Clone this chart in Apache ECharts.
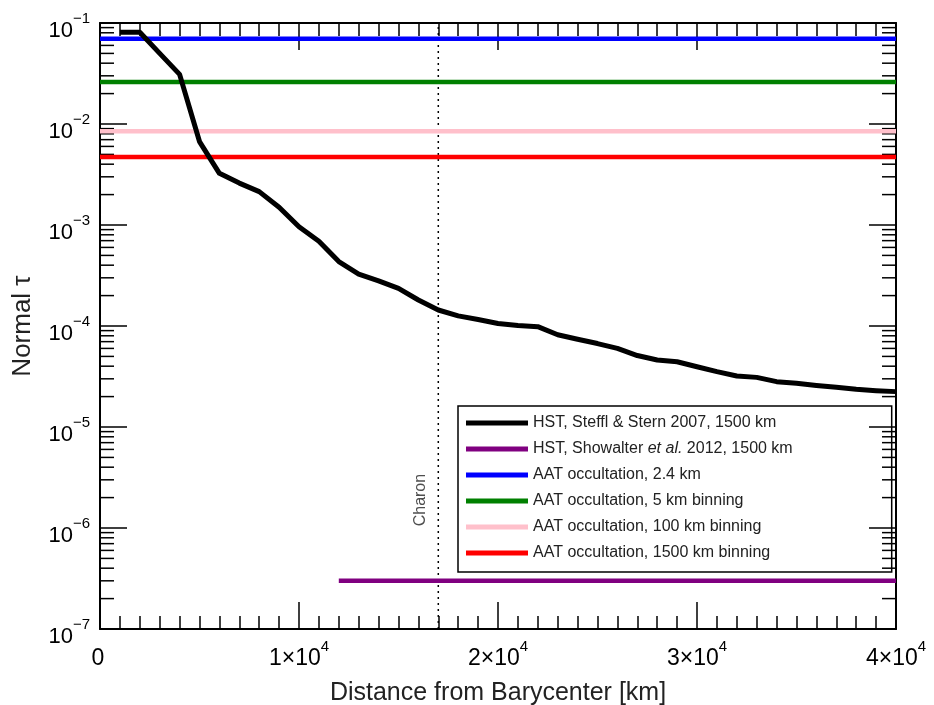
<!DOCTYPE html>
<html><head><meta charset="utf-8">
<script src="https://cdn.jsdelivr.net/npm/echarts@6/dist/echarts.min.js"></script>
<style>html,body{margin:0;padding:0;background:#fff}#c{width:934px;height:705px}</style>
</head><body><div id="c"></div>
<script>
// ---- data ----
const xMin = 0, xMax = 40000;
const yMin = 1e-7, yMax = 1e-1;
const steffl_x = [1000,2000,3000,4000,5000,6000,7000,8000,9000,10000,11000,12000,13000,14000,15000,16000,17000,18000,19000,20000,21000,22000,23000,24000,25000,26000,27000,28000,29000,30000,31000,32000,33000,34000,35000,36000,37000,38000,39000,40000];
const steffl_y = [0.081,0.081,0.050,0.031,0.0067,0.00325,0.0026,0.00214,0.0015,0.00096,0.00069,0.000434,0.000327,0.00028,0.000236,0.000181,0.000144,0.000126,0.000116,0.000106,0.000101,0.0000985,0.000082,0.000074,0.000067,0.000060,0.000051,0.000046,0.0000443,0.0000395,0.0000353,0.000032,0.000031,0.0000281,0.0000271,0.0000258,0.0000247,0.0000236,0.0000229,0.0000224];
const showalter_x = [12000, 40000];
const showalter_y = 3.0e-7;
const aat24 = 0.07;
const aat5 = 0.026;
const aat100 = 0.0085;
const aat1500 = 0.0047;
const charonX = 17000;
const charonLabelY = 1.89e-6;
const names = ['HST, Steffl & Stern 2007, 1500 km','HST, Showalter et al. 2012, 1500 km','AAT occultation, 2.4 km','AAT occultation, 5 km binning','AAT occultation, 100 km binning','AAT occultation, 1500 km binning'];
const colors = ['#000000','#800080','#0000ff','#008000','#ffc0cb','#ff0000'];
// minor tick positions for the log axis (2..9 x 10^k)
const minorTickVals = [];
for (let k = -7; k < -1; k++) for (let m = 2; m <= 9; m++) minorTickVals.push(m * Math.pow(10, k));

const FONT = "'Liberation Sans', Arial, Helvetica, sans-serif";
const richX = {
  b: {fontSize: 23, fontFamily: FONT, color: '#000', lineHeight: 23, verticalAlign: 'bottom'},
  s: {fontSize: 15, fontFamily: FONT, color: '#000', lineHeight: 15, padding: [0,0,16,0], verticalAlign: 'bottom'}
};
const richY = {
  b: {fontSize: 22, fontFamily: FONT, color: '#000', lineHeight: 22, verticalAlign: 'bottom'},
  s: {fontSize: 15, fontFamily: FONT, color: '#000', lineHeight: 15, padding: [0,0,16,0], verticalAlign: 'bottom'}
};
function xFmt(v){ if (v === 0) return '{b|0}{s| }'; return '{b|' + Math.round(v/10000) + '×10}{s|4}'; }
function yFmt(v){ const e = Math.round(Math.log10(v)); return '{b|10}{s|' + (e<0?'−':'') + Math.abs(e) + '}'; }

function hLine(v, x0, x1){ return [[x0, v],[x1, v]]; }

const chart = echarts.init(document.getElementById('c'), null, {renderer:'canvas'});
const axisCommon = {
  axisLine: {show: true, onZero: false, lineStyle: {color: '#000', width: 2}},
  axisTick: {show: true, inside: true, length: 27, lineStyle: {color: '#000', width: 1.5}},
  splitLine: {show: false}
};
const seriesLines = [
  {name: names[0], data: steffl_x.map((x,i)=>[x, steffl_y[i]]), width: 5},
  {name: names[1], data: hLine(showalter_y, showalter_x[0], showalter_x[1]), width: 4.5},
  {name: names[2], data: hLine(aat24, xMin, xMax), width: 4.5},
  {name: names[3], data: hLine(aat5, xMin, xMax), width: 4.5},
  {name: names[4], data: hLine(aat100, xMin, xMax), width: 4.5},
  {name: names[5], data: hLine(aat1500, xMin, xMax), width: 4.5}
].map((s,i)=>({
  type: 'line', name: s.name, data: s.data, showSymbol: false, symbol: 'none',
  lineStyle: {color: colors[i], width: s.width, cap: 'butt', join: 'round'},
  itemStyle: {color: colors[i]}, z: i === 0 ? 3 : 2, clip: true, silent: true
}));

const option = {
  animation: false,
  backgroundColor: '#fff',
  grid: {left: 100, right: 38, top: 23, bottom: 76, containLabel: false, outerBoundsMode: 'none'},
  xAxis: [
    Object.assign({}, axisCommon, {
      type: 'value', min: xMin, max: xMax, interval: 10000, position: 'bottom',
      minorTick: {show: true, splitNumber: 10, length: 13, lineStyle: {color: '#000', width: 1.5}},
      axisLabel: {formatter: xFmt, rich: richX, margin: 18},
      name: 'Distance from Barycenter [km]', nameLocation: 'middle', nameGap: 52,
      nameTextStyle: {fontSize: 25, fontFamily: FONT, color: '#222'}
    }),
    Object.assign({}, axisCommon, {
      type: 'value', min: xMin, max: xMax, interval: 10000, position: 'top',
      minorTick: {show: true, splitNumber: 10, length: 13, lineStyle: {color: '#000', width: 1.5}},
      axisLabel: {show: false}
    })
  ],
  yAxis: [
    Object.assign({}, axisCommon, {
      type: 'log', logBase: 10, min: yMin, max: yMax, interval: 1, position: 'left',
      axisLabel: {formatter: yFmt, rich: richY, margin: 10, padding: [16, 0, 0, 0]},
      name: 'Normal τ', nameLocation: 'middle', nameGap: 64,
      nameTextStyle: {fontSize: 26, fontFamily: FONT, color: '#222'}
    }),
    Object.assign({}, axisCommon, {
      type: 'log', logBase: 10, min: yMin, max: yMax, interval: 1, position: 'right',
      axisLabel: {show: false}
    })
  ],
  legend: {
    orient: 'vertical', left: 458, top: 406,
    data: names,
    icon: 'rect', itemWidth: 62, itemHeight: 5, itemGap: 8,
    borderColor: '#000', borderWidth: 1.5, borderRadius: 0,
    padding: [8, 99, 10, 8],
    selectedMode: false,
    textStyle: {fontSize: 16, lineHeight: 18, fontFamily: FONT, color: '#222',
      rich: {n: {fontSize: 16, lineHeight: 18, fontFamily: FONT, color: '#222'}, i: {fontSize: 16, lineHeight: 18, fontFamily: FONT, fontStyle: 'italic', color: '#222'}}},
    formatter: function(n){
      if (n === names[1]) return '{n|HST, Showalter }{i|et al.}{n| 2012, 1500 km}';
      return n;
    }
  },
  series: seriesLines.concat([
    {
      type: 'line', name: 'Charon', data: [[charonX, yMin],[charonX, yMax]], showSymbol: false, symbol: 'none',
      lineStyle: {color: '#000', width: 1.5, type: [2, 4]}, z: 1, silent: true
    },
    {
      type: 'scatter', name: 'CharonLabel', data: [[charonX, charonLabelY]], symbolSize: 0,
      label: {show: true, formatter: 'Charon', position: 'left', distance: 10, rotate: 90,
        align: 'center', verticalAlign: 'bottom',
        fontSize: 16, fontFamily: FONT, color: '#222'}, silent: true
    },
    {
      type: 'custom', name: 'minorTicks', data: minorTickVals.map(v=>[xMin, v]), silent: true, clip: false,
      renderItem: function(params, api){
        const v = api.value(1);
        const pL = api.coord([xMin, v]);
        const pR = api.coord([xMax, v]);
        return {type: 'group', children: [
          {type: 'line', shape: {x1: pL[0], y1: pL[1], x2: pL[0] + 14, y2: pL[1]}, style: {stroke: '#000', lineWidth: 1.5}},
          {type: 'line', shape: {x1: pR[0], y1: pR[1], x2: pR[0] - 14, y2: pR[1]}, style: {stroke: '#000', lineWidth: 1.5}}
        ]};
      }
    }
  ])
};
chart.setOption(option);
</script>
</body></html>
